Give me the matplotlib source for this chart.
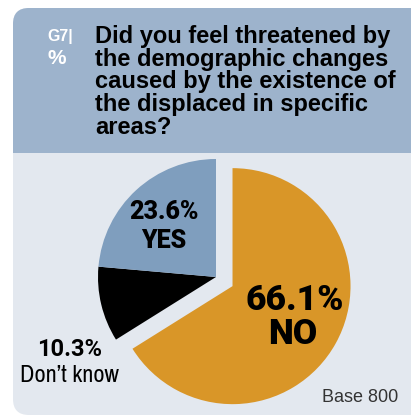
import matplotlib
matplotlib.use("Agg")
import matplotlib.pyplot as plt
from matplotlib.patches import FancyBboxPatch, Rectangle

labels = ["NO", "Don\u2019t know", "YES"]
values = [66.1, 10.3, 23.6]
colors = ["#d99628", "#000000", "#7f9ebe"]
explode = [0.16, 0, 0]
title = "Did you feel threatened by\nthe demographic changes\ncaused by the existence of\nthe displaced in specific\nareas?"
base_text = "Base 800"

W, H = 411, 418
fig = plt.figure(figsize=(W / 100, H / 100), dpi=100)
fig.patch.set_facecolor("white")

bg = fig.add_axes([0, 0, 1, 1])
bg.set_xlim(0, W)
bg.set_ylim(H, 0)
bg.axis("off")

# body panel
bg.add_patch(FancyBboxPatch((13, 8), 420, 407, boxstyle="round,pad=0,rounding_size=16",
                            facecolor="#e3e8ef", edgecolor="none", zorder=0))
# header band
bg.add_patch(FancyBboxPatch((13, 8), 420, 145, boxstyle="round,pad=0,rounding_size=16",
                            facecolor="#9db3cc", edgecolor="none", zorder=1))
bg.add_patch(Rectangle((13, 120), 420, 33, facecolor="#9db3cc", edgecolor="none", zorder=1))

# pie
cx, cy, r, half = 216, 277, 118, 160
pax = fig.add_axes([(cx - half) / W, (H - cy - half) / H, 2 * half / W, 2 * half / H])
pax.pie(values, colors=colors, explode=explode, startangle=90, counterclock=False,
        radius=1, wedgeprops=dict(linewidth=0))
pax.set_xlim(-half / r, half / r)
pax.set_ylim(-half / r, half / r)
pax.set_aspect("equal")
pax.axis("off")

# text overlay
tx = fig.add_axes([0, 0, 1, 1])
tx.set_xlim(0, W)
tx.set_ylim(H, 0)
tx.axis("off")
tx.patch.set_alpha(0)

sans = ["Liberation Sans", "DejaVu Sans"]
heavy = ["Roboto", "DejaVu Sans"]
narrow = ["Archivo Narrow", "Asap Condensed", "DejaVu Sans"]

tx.text(47, 37, "G7|", color="white", fontsize=11.5, fontweight="bold",
        family=sans, va="center", ha="left")
tx.text(47, 58, "%", color="white", fontsize=15, fontweight="bold",
        family=sans, va="center", ha="left")
tx.text(95, 25, title, color="black", fontsize=17, fontweight="bold",
        family=sans, va="top", ha="left", linespacing=0.98)

tx.text(295, 300, f"{values[0]:.1f}%", fontsize=25.5, fontweight=900,
        family=heavy, ha="center", va="center")
tx.text(293, 334, labels[0], fontsize=25.5, fontweight=900,
        family=heavy, ha="center", va="center")
tx.text(164, 212, f"{values[2]:.1f}%", fontsize=18, fontweight=900,
        family=heavy, ha="center", va="center")
tx.text(164, 241, labels[2], fontsize=18, fontweight=900,
        family=heavy, ha="center", va="center")
tx.text(70, 349, f"{values[1]:.1f}%", fontsize=17, fontweight="bold",
        family=heavy, ha="center", va="center")
tx.text(69, 375, labels[1], fontsize=17.5, family=narrow,
        ha="center", va="center")
tx.text(398, 398, base_text, fontsize=13, family=sans,
        ha="right", va="center", color="#333333")

fig.savefig("out.png", dpi=100)
